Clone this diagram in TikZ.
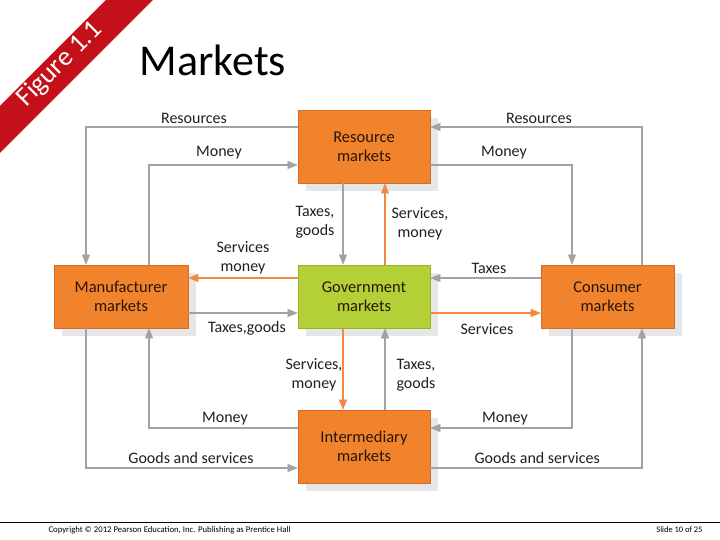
\documentclass[tikz,border=0pt]{standalone}
\usepackage{fontspec}
\setmainfont{Carlito}
\usetikzlibrary{arrows.meta,positioning,backgrounds,calc}
\definecolor{mkOrange}   {RGB}{241,131,44}
\definecolor{mkEdge}     {RGB}{214,108,36}
\definecolor{mkGreen}    {RGB}{179,208,54}
\definecolor{mkGreenEdge}{RGB}{150,180,40}
\definecolor{mkGrey}     {RGB}{162,162,165}
\definecolor{mkFlow}     {RGB}{240,138,66}
\definecolor{mkShadow}   {RGB}{229,230,231}
\definecolor{mkText}     {RGB}{40,22,10}
\definecolor{mkInk}      {RGB}{35,31,32}
\definecolor{mkRed}      {RGB}{196,16,26}
\tikzset{
  market/.style={draw=mkEdge,line width=0.6pt,fill=mkOrange,text=mkText,
    font=\fontsize{16.5}{19}\selectfont,align=center,inner sep=0pt,
    minimum width=132pt,minimum height=73pt},
  govt/.style={market,draw=mkGreenEdge,fill=mkGreen},
  flow/.style={draw=mkGrey,line width=2.5pt,
    -{Triangle[length=10pt,width=8pt,line width=0.4pt]}},
  oflow/.style={flow,draw=mkFlow},
  lbl/.style={font=\fontsize{16}{19}\selectfont,text=mkInk,inner sep=0pt},
}
\begin{document}
\begin{tikzpicture}[x=1pt,y=-1pt]
\useasboundingbox (0,0) rectangle (720,540);
% corner banner and title
\fill[mkRed] (106,0) -- (153,0) -- (0,153) -- (0,106) -- cycle;
\node[font=\fontsize{27}{27}\selectfont,text=white,rotate=45] (figtag)
  at (60,64) {Figure 1.1};
\node[font=\fontsize{44}{44}\selectfont] (title) at (213,60) {Markets};
% the five markets
\node[market] (res) at (364,146.5) {Resource\\markets};
\node[market,minimum width=134pt,minimum height=63pt] (man) at (121,296.5)
  {Manufacturer\\markets};
\node[govt,minimum height=63pt] (gov) at (364,296.5) {Government\\markets};
\node[market,minimum width=133pt,minimum height=63pt] (con) at (607.5,296.5)
  {Consumer\\markets};
\node[market] (int) at (364,446.5) {Intermediary\\markets};
% grey offset shadows behind the boxes
\begin{scope}[on background layer]
  \fill[white] (0,0) rectangle (720,540);
  \foreach \b in {res,man,gov,con,int}{
    \fill[mkShadow] ($(\b.north west)+(8,8)$) rectangle ($(\b.south east)+(8,8)$);
  }
\end{scope}
% outer loops
\draw[flow] (res.west |- 0,127) -| (86,0 |- man.north);
\draw[flow] (149,0 |- man.north) |- (res.west |- 0,165);
\draw[flow] (642,0 |- con.north) |- (res.east |- 0,127);
\draw[flow] (res.east |- 0,165) -| (572,0 |- con.north);
\draw[flow] (int.west |- 0,428) -| (149,0 |- man.south);
\draw[flow] (86,0 |- man.south) |- (int.west |- 0,468);
\draw[flow] (572,0 |- con.south) |- (int.east |- 0,428);
\draw[flow] (int.east |- 0,468) -| (642,0 |- con.south);
% flows to and from government
\draw[flow]  (343,0 |- res.south) -- (343,0 |- gov.north);
\draw[oflow] (385,0 |- gov.north) -- (385,0 |- res.south);
\draw[oflow] (gov.west |- 0,278) -- (man.east |- 0,278);
\draw[flow]  (man.east |- 0,313) -- (gov.west |- 0,313);
\draw[flow]  (con.west |- 0,278) -- (gov.east |- 0,278);
\draw[oflow] (gov.east |- 0,313) -- (con.west |- 0,313);
\draw[oflow] (343,0 |- gov.south) -- (343,0 |- int.north);
\draw[flow]  (385,0 |- int.north) -- (385,0 |- gov.south);
% flow labels
\foreach \nm/\x/\y/\al/\txt in {
   resL/194/118/center/Resources,
   resR/539/118/center/Resources,
   monTL/219/153/center/Money,
   monTR/504/153/center/Money,
   taxT/315/222/left/{Taxes,\\goods},
   srvT/420/224/center/{Services,\\money},
   srvL/243/258/center/{Services\\money},
   taxL/247/328/center/{Taxes,goods},
   taxR/489/268/center/Taxes,
   srvR/487/329/center/Services,
   srvB/314/375/center/{Services,\\money},
   taxB/416/375/left/{Taxes,\\goods},
   monBL/225/419/center/Money,
   monBR/505/419/center/Money,
   gdsL/191/458/center/Goods and services,
   gdsR/539/458/center/Goods and services
}{
  \node[lbl,align=\al] (lb\nm) at (\x,\y) {\txt};
}
% footer
\draw[black,line width=1pt] (0,522) -- (720,522);
\node[font=\fontsize{8.7}{9}\selectfont,anchor=west] (copy) at (45,530)
  {Copyright © 2012 Pearson Education, Inc. Publishing as Prentice Hall};
\node[font=\fontsize{8.4}{9}\selectfont,anchor=east] (slide) at (706,530)
  {Slide 10 of 25};
\end{tikzpicture}
\end{document}
